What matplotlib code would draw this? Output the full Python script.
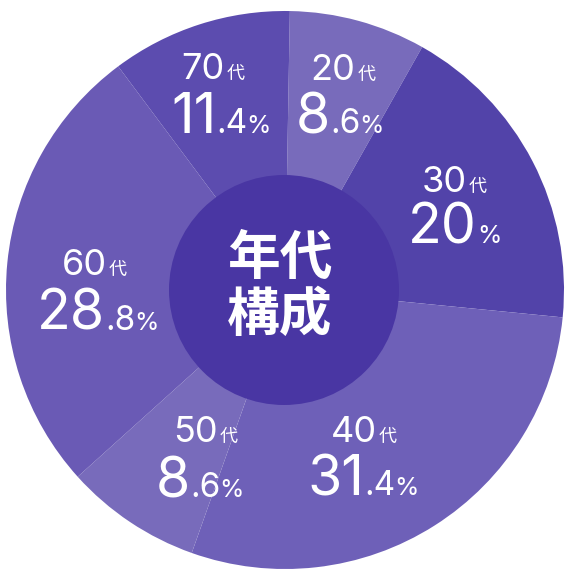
import matplotlib
matplotlib.use("Agg")
import matplotlib.pyplot as plt
from matplotlib.patches import Circle

# ---- data ----
ages = ["20", "30", "40", "50", "60", "70"]
age_suffix = "代"
shares = [8.6, 20, 31.4, 8.6, 28.8, 11.4]
share_texts = [("8", ".6"), ("20", ""), ("31", ".4"), ("8", ".6"), ("28", ".8"), ("11", ".4")]
center_title = "年代\n構成"

colors = ["#786bbb", "#5243a9", "#6e60b8", "#786bbb", "#6a5ab5", "#5c4caf"]
center_color = "#4936a3"

W, H = 570, 574
fig = plt.figure(figsize=(W / 100, H / 100), dpi=100)
ax = fig.add_axes([0, 0, 1, 1])

def Y(ypx):
    return H - ypx

cx, cy, R = 285, Y(290), 279
ax.pie(shares, colors=colors, startangle=89, counterclock=False,
       center=(cx, cy), radius=R, wedgeprops=dict(linewidth=0))
ax.add_patch(Circle((284, Y(290)), 115, facecolor=center_color, edgecolor="none", zorder=5))
ax.set_xlim(0, W)
ax.set_ylim(0, H)
ax.set_aspect("equal")
ax.axis("off")

FAM = ["Inter", "Noto Sans CJK JP"]
renderer = fig.canvas.get_renderer()

def draw_pieces(xc, ybase, pieces, gaps):
    texts = []
    for s, size in pieces:
        if not s:
            continue
        t = ax.text(0, Y(ybase), s, fontsize=size, color="white", family=FAM,
                    ha="left", va="baseline", zorder=10)
        texts.append(t)
    widths = [t.get_window_extent(renderer).width for t in texts]
    g = gaps[:len(texts) - 1]
    total = sum(widths) + sum(g)
    x = xc - total / 2
    for i, (t, w) in enumerate(zip(texts, widths)):
        t.set_x(x)
        x += w + (g[i] if i < len(g) else 0)

# label positions (center x, label baseline y, number center x, number baseline y) in pixels
label_pos = [
    (343, 80, 340, 133),   # 20
    (454, 192, 455, 243),  # 30
    (364, 442, 363, 495),  # 40
    (205, 442, 200, 497),  # 50
    (94, 275, 98, 330),    # 60
    (213, 79, 221, 133),   # 70
]

for age, (big, dec), (lx, ly, nx, ny) in zip(ages, share_texts, label_pos):
    draw_pieces(lx, ly, [(age, 26), (age_suffix, 13)], gaps=[2])
    if dec:
        draw_pieces(nx, ny, [(big, 40), (dec, 24), ("%", 18)], gaps=[0, -1])
    else:
        draw_pieces(nx, ny, [(big, 40), ("%", 18)], gaps=[0])

ax.text(280, Y(287), center_title, fontsize=38, fontweight="bold", color="white",
        family=["Noto Sans CJK JP"], ha="center", va="center", linespacing=1.1, zorder=10)

fig.savefig("out.png", dpi=100)
